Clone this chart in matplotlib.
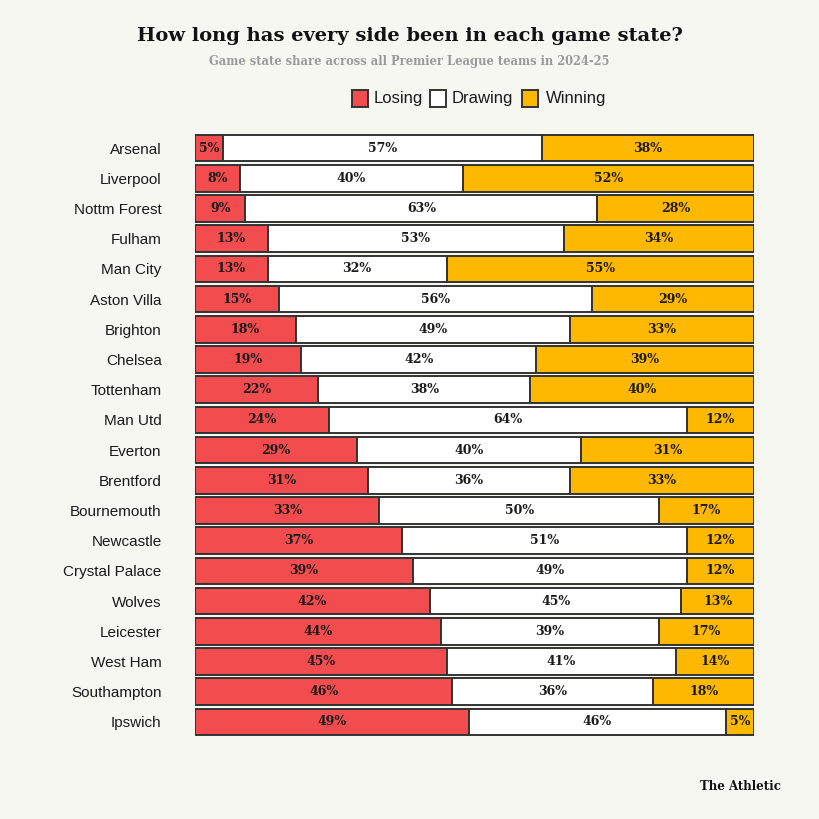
import matplotlib
matplotlib.use("Agg")
import matplotlib.pyplot as plt
from matplotlib.patches import Rectangle

teams = ["Arsenal", "Liverpool", "Nottm Forest", "Fulham", "Man City", "Aston Villa",
         "Brighton", "Chelsea", "Tottenham", "Man Utd", "Everton", "Brentford",
         "Bournemouth", "Newcastle", "Crystal Palace", "Wolves", "Leicester",
         "West Ham", "Southampton", "Ipswich"]
losing = [5, 8, 9, 13, 13, 15, 18, 19, 22, 24, 29, 31, 33, 37, 39, 42, 44, 45, 46, 49]
drawing = [57, 40, 63, 53, 32, 56, 49, 42, 38, 64, 40, 36, 50, 51, 49, 45, 39, 41, 36, 46]
winning = [38, 52, 28, 34, 55, 29, 33, 39, 40, 12, 31, 33, 17, 12, 12, 13, 17, 14, 18, 5]
series_names = ["Losing", "Drawing", "Winning"]

BG = "#f7f7f2"
RED = "#f24c4f"
WHITE = "#ffffff"
YEL = "#ffb800"
EDGE = "#333333"
colors = [RED, WHITE, YEL]

fig = plt.figure(figsize=(8.19, 8.19), dpi=100, facecolor=BG)
ax = fig.add_axes([195/819, 1-737.1/819, (754-195)/819, (737.1-132.9)/819])
ax.set_facecolor(BG)

y = list(range(len(teams)))
left = [0]*len(teams)
for vals, c in zip([losing, drawing, winning], colors):
    ax.barh(y, vals, left=left, height=0.88, color=c, edgecolor=EDGE, linewidth=1.4)
    for yi, v, l in zip(y, vals, left):
        ax.text(l + v/2, yi, f"{v}%", ha="center", va="center", fontsize=9,
                fontweight="bold", family="DejaVu Serif", color="#1a1a1a")
    left = [a+b for a, b in zip(left, vals)]

ax.set_xlim(0, 100)
ax.set_ylim(len(teams)-0.5, -0.5)
ax.set_yticks(y)
ax.set_yticklabels(teams, fontsize=11, family="Liberation Sans", color="#1a1a1a")
ax.tick_params(axis="y", length=0, pad=24)
ax.set_xticks([])
for s in ax.spines.values():
    s.set_visible(False)

fig.text(0.5, 1-36/819, "How long has every side been in each game state?", ha="center", va="center",
         fontsize=14, fontweight="bold", family="DejaVu Serif", color="#121212")
fig.text(0.5, 1-61/819, "Game state share across all Premier League teams in 2024-25", ha="center",
         va="center", fontsize=8.3, fontweight="bold", family="DejaVu Serif", color="#9a9a9a")

# legend
lx = [352, 430, 522]
tx = [374, 452, 546]
for x0, t0, c, name in zip(lx, tx, colors, series_names):
    fig.patches.append(Rectangle((x0/819, 1-107/819), 16/819, 17/819, transform=fig.transFigure,
                                 facecolor=c, edgecolor=EDGE, linewidth=1.4))
    fig.text(t0/819, 1-99/819, name, ha="left", va="center", fontsize=12,
             family="Liberation Sans", color="#1a1a1a")

fig.text(781/819, 1-787/819, "The Athletic", ha="right", va="center", fontsize=8.5,
         fontweight="bold", family="DejaVu Serif", color="#121212")

fig.savefig("out.png", dpi=100, facecolor=BG)
